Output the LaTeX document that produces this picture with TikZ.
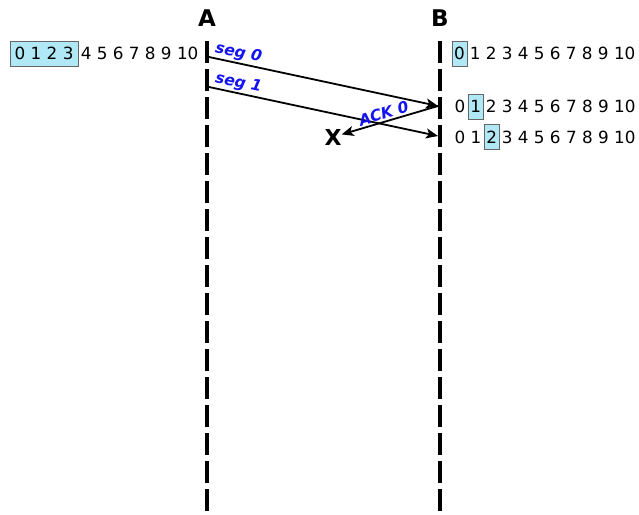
\documentclass[tikz,border=0pt]{standalone}
\usepackage{fontspec}
\setmainfont{DejaVu Sans}
\usepackage{tikz}
\usetikzlibrary{arrows.meta,positioning}
\definecolor{boxcyan}{RGB}{176,232,245}
\definecolor{segblue}{RGB}{20,20,240}

\begin{document}
\begin{tikzpicture}[x=1pt,y=-1pt,
  seqtext/.style={inner xsep=2.5pt,inner ysep=0pt,font=\fontsize{16.8}{18}\selectfont,text height=12pt,text depth=0pt},
  seqbox/.style={seqtext,draw=black!60,fill=boxcyan,inner xsep=2pt,inner ysep=6.5pt},
  host/.style={inner sep=0pt,font=\fontsize{23}{25}\selectfont\bfseries},
  lifeline/.style={line width=4.5pt,dash pattern=on 22pt off 6pt},
  msg/.style={line width=1.8pt,-{Stealth[length=12pt,width=10pt,inset=3pt]}},
  lbl/.style={inner sep=1.5pt,font=\fontsize{15.5}{17}\selectfont\bfseries\itshape,text=segblue,sloped,above}]
\useasboundingbox (0,0) rectangle (639,514);

% hosts and their time lines
\node[host] (A) at (207,18) {A};
\node[host] (B) at (440,18) {B};
\coordinate (Atop) at (207,41);
\coordinate (Abot) at (207,512);
\coordinate (Btop) at (440,41);
\coordinate (Bbot) at (440,512);
\draw[lifeline] (Atop) -- (Abot);
\draw[lifeline] (Btop) -- (Bbot);

% sender window
\node[seqbox,inner xsep=4.5pt,anchor=west] (winA) at (10,53.5) {0 1 2 3};
\node[seqtext,right=0pt of winA] (restA) {4 5 6 7 8 9 10};

% receiver windows
\node[seqbox,anchor=west] (winB0) at (452,53.5) {0};
\node[seqtext,right=0pt of winB0] (restB0) {1 2 3 4 5 6 7 8 9 10};
\node[seqtext,anchor=west] (headB1) at (452,106.5) {0};
\node[seqbox,right=0pt of headB1] (winB1) {1};
\node[seqtext,right=0pt of winB1] (restB1) {2 3 4 5 6 7 8 9 10};
\node[seqtext,anchor=west] (headB2) at (452,137) {0 1};
\node[seqbox,right=0pt of headB2] (winB2) {2};
\node[seqtext,right=0pt of winB2] (restB2) {3 4 5 6 7 8 9 10};

% segments and ack
\coordinate (s0) at (209,57);
\coordinate (r0) at (438,106);
\coordinate (s1) at (209,87);
\coordinate (r1) at (438,136);
\node[host,font=\fontsize{22}{24}\selectfont\bfseries] (lost) at (333,137) {X};
\draw[msg] (s0) -- node[lbl,pos=0.12] {seg 0} (r0);
\draw[msg] (s1) -- node[lbl,pos=0.12] {seg 1} (r1);
\draw[msg] (r0) -- node[lbl,pos=0.54] {ACK 0} (lost);
\end{tikzpicture}
\end{document}
